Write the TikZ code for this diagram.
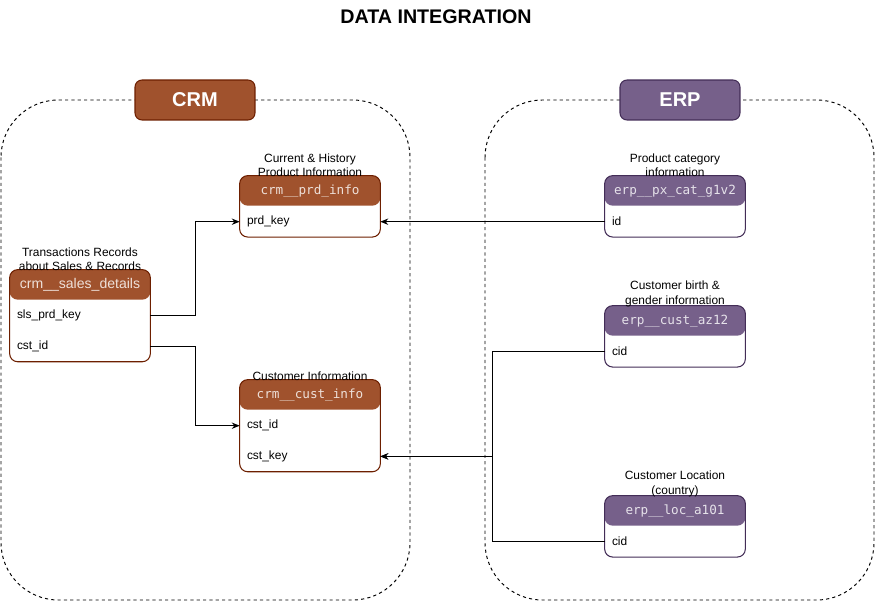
\documentclass[tikz,border=0pt]{standalone}
\usepackage{fontspec}
\setmainfont{Liberation Sans}
\setmonofont{DejaVu Sans Mono}
\usetikzlibrary{arrows.meta,positioning,fit,backgrounds}
\definecolor{crmbrown}{HTML}{A0522D}
\definecolor{crmline}{HTML}{6D1F00}
\definecolor{erppurple}{HTML}{76608A}
\definecolor{erpline}{HTML}{432D57}

\tikzset{
  zone/.style={draw, dash pattern=on 1.8pt off 1.8pt, rounded corners=1.15cm, line width=0.55pt},
  zonetag/.style={rounded corners=4pt, minimum width=2.4cm, minimum height=0.8cm, line width=0.6pt,
    text=white, font=\fontsize{11.4}{13}\selectfont\bfseries},
  tablebody/.style args={#1 and #2}{draw=#1, fill=white, rounded corners=0.16cm, inner sep=0pt, line width=0.6pt,
    path picture={\fill[#2] (path picture bounding box.north west) rectangle ([yshift=-0.6cm]path picture bounding box.north east);}},
  hdr/.style={minimum width=2.8cm, minimum height=0.6cm, inner sep=0pt, font=\ttfamily\fontsize{7.2}{8}\selectfont},
  tablerow/.style={minimum width=2.8cm, minimum height=0.6cm, inner xsep=0.14cm, inner ysep=0pt,
    text width=2.52cm, align=left, font=\fontsize{6.8}{8}\selectfont},
  caption/.style={align=center, inner sep=0pt, font=\fontsize{6.8}{8}\selectfont},
  link/.style={-{Stealth[length=4.5pt, width=3.6pt]}, line width=0.6pt}
}

\begin{document}
\begin{tikzpicture}[x=0.02cm, y=-0.02cm]
  \useasboundingbox (0,0) rectangle (875,601);

  % Title
  \node[font=\fontsize{11.2}{13}\selectfont\bfseries] (title) at (436,17) {DATA INTEGRATION};

  % Source system zones
  \draw[zone] (1,100) rectangle (410,600);
  \draw[zone] (485,100) rectangle (874,600);
  \node[zonetag, fill=crmbrown, draw=crmline] (crmtag) at (195,100) {CRM};
  \node[zonetag, fill=erppurple, draw=erpline] (erptag) at (680,100) {ERP};

  % CRM tables
  \node[hdr, font=\fontsize{8}{9}\selectfont, text=white!82!crmbrown] (saleshdr) at (80,285) {crm\_\_sales\_details};
  \node[tablerow, below=0pt of saleshdr] (slsprd) {sls\_prd\_key};
  \node[tablerow, below=0pt of slsprd] (salescst) {cst\_id};

  \node[hdr, text=white!82!crmbrown] (prdhdr) at (310,191) {crm\_\_prd\_info};
  \node[tablerow, below=0pt of prdhdr] (prdkey) {prd\_key};

  \node[hdr, text=white!82!crmbrown] (custhdr) at (310,395) {crm\_\_cust\_info};
  \node[tablerow, below=0pt of custhdr] (custid) {cst\_id};
  \node[tablerow, below=0pt of custid] (custkey) {cst\_key};

  % ERP tables
  \node[hdr, text=white!82!erppurple] (pxhdr) at (675,191) {erp\_\_px\_cat\_g1v2};
  \node[tablerow, below=0pt of pxhdr] (pxid) {id};

  \node[hdr, text=white!82!erppurple] (azhdr) at (675,321) {erp\_\_cust\_az12};
  \node[tablerow, below=0pt of azhdr] (azcid) {cid};

  \node[hdr, text=white!82!erppurple] (lochdr) at (675,511) {erp\_\_loc\_a101};
  \node[tablerow, below=0pt of lochdr] (loccid) {cid};

  % Table frames behind the rows
  \begin{scope}[on background layer]
    \node[tablebody=crmline and crmbrown, fit=(saleshdr)(salescst)] (sales) {};
    \node[tablebody=crmline and crmbrown, fit=(prdhdr)(prdkey)] (prd) {};
    \node[tablebody=crmline and crmbrown, fit=(custhdr)(custkey)] (cust) {};
    \node[tablebody=erpline and erppurple, fit=(pxhdr)(pxid)] (px) {};
    \node[tablebody=erpline and erppurple, fit=(azhdr)(azcid)] (az) {};
    \node[tablebody=erpline and erppurple, fit=(lochdr)(loccid)] (loc) {};
  \end{scope}

  % Captions
  \node[caption, above=-1pt of sales] (salescap) {Transactions Records\\about Sales \& Records};
  \node[caption, above=-1pt of prd] (prdcap) {Current \& History\\Product Information};
  \node[caption, above=-1pt of cust] (custcap) {Customer Information};
  \node[caption, above=-1pt of px] (pxcap) {Product category\\information};
  \node[caption, above=-1pt of az] (azcap) {Customer birth \&\\gender information};
  \node[caption, above=-1pt of loc] (loccap) {Customer Location\\(country)};

  % Connectors
  \draw[link] (slsprd.east) -- ++(45,0) |- (prdkey.west);
  \draw[link] (salescst.east) -- ++(45,0) |- (custid.west);
  \draw[link] (pxid.west) -- (prdkey.east);
  \draw[link] (azcid.west) -- ++(-112,0) |- (custkey.east);
  \draw[link] (loccid.west) -- ++(-112,0) |- (custkey.east);
\end{tikzpicture}
\end{document}
